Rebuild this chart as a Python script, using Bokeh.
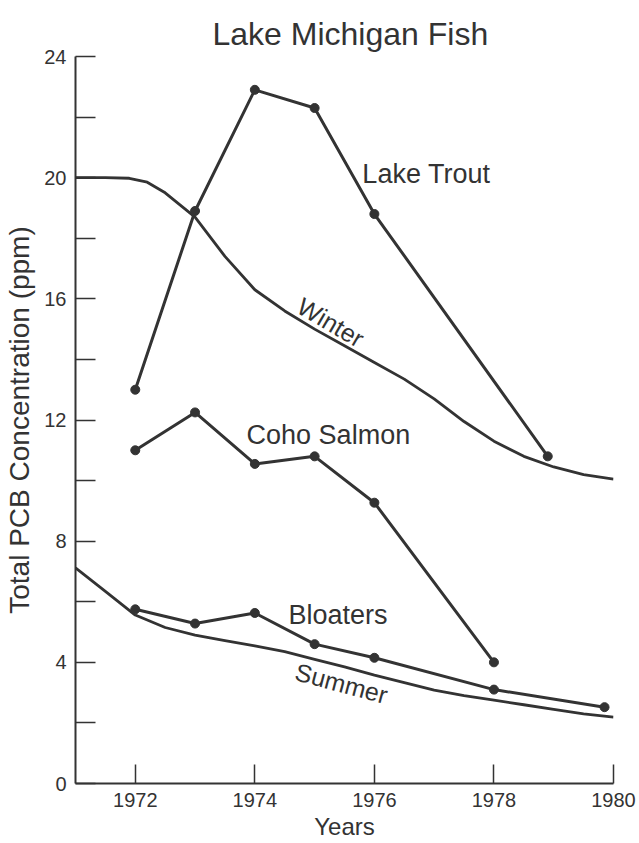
from bokeh.plotting import figure
from bokeh.models import FixedTicker, ColumnDataSource
from bokeh.core.properties import value
from bokeh.embed import file_html
from bokeh.resources import INLINE

# ---- data ----
trout_years = [1972, 1973, 1974, 1975, 1976, 1978.9]
trout_ppm = [13.0, 18.9, 22.9, 22.3, 18.8, 10.8]

coho_years = [1972, 1973, 1974, 1975, 1976, 1978]
coho_ppm = [11.0, 12.25, 10.55, 10.8, 9.27, 4.0]

bloater_years = [1972, 1973, 1974, 1975, 1976, 1978, 1979.85]
bloater_ppm = [5.75, 5.28, 5.63, 4.6, 4.15, 3.1, 2.52]

winter_years = [1971, 1971.5, 1971.9, 1972.2, 1972.5, 1973, 1973.5, 1974, 1974.5,
                1975, 1975.5, 1976, 1976.5, 1977, 1977.5, 1978, 1978.5, 1979, 1979.5, 1980]
winter_ppm = [20.0, 20.0, 19.98, 19.85, 19.5, 18.7, 17.4, 16.3, 15.6,
              15.0, 14.45, 13.9, 13.35, 12.7, 11.95, 11.3, 10.8, 10.45, 10.2, 10.05]

summer_years = [1971, 1971.5, 1972, 1972.5, 1973, 1973.5, 1974, 1974.5, 1975,
                1975.5, 1976, 1976.5, 1977, 1977.5, 1978, 1978.5, 1979, 1979.5, 1980]
summer_ppm = [7.12, 6.34, 5.56, 5.15, 4.9, 4.72, 4.54, 4.35, 4.1,
              3.85, 3.58, 3.33, 3.08, 2.9, 2.75, 2.6, 2.45, 2.3, 2.19]

x_ticks = [1972, 1974, 1976, 1978, 1980]
y_major = [0, 4, 8, 12, 16, 20, 24]
y_minor = [2, 6, 10, 14, 18, 22]

label_text = ["Lake Trout", "Coho Salmon", "Bloaters", "Winter", "Summer"]

# ---- styling / layout ----
INK = "#333333"
FONT = "Liberation Sans"

p = figure(width=639, height=843, x_range=(1971, 1980), y_range=(0, 24),
           output_backend="svg", toolbar_location=None,
           title="Lake Michigan Fish",
           min_border_left=75, min_border_right=26,
           min_border_top=56, min_border_bottom=60)

p.title.text_font = FONT
p.title.text_font_size = "32px"
p.title.text_font_style = "normal"
p.title.text_color = INK
p.title.align = "left"
p.title.offset = 137
p.title.text_line_height = 0.7
p.title.standoff = 9

p.outline_line_color = None
p.xgrid.visible = False
p.ygrid.visible = False
p.background_fill_color = "white"
p.border_fill_color = "white"

# axes
p.xaxis.ticker = FixedTicker(ticks=x_ticks, minor_ticks=[])
p.yaxis.ticker = FixedTicker(ticks=y_major, minor_ticks=y_minor)
for ax in (p.xaxis, p.yaxis):
    ax.axis_line_color = INK
    ax.axis_line_width = 2
    ax.major_tick_line_color = INK
    ax.major_tick_line_width = 1.5
    ax.minor_tick_line_color = INK
    ax.minor_tick_line_width = 1.5
    ax.major_tick_out = 0
    ax.minor_tick_out = 0
    ax.major_label_text_font = FONT
    ax.major_label_text_font_size = "20px"
    ax.major_label_text_color = INK
    ax.axis_label_text_font = FONT
    ax.axis_label_text_font_style = "normal"
    ax.axis_label_text_color = INK

p.xaxis.major_tick_in = 19
p.xaxis.major_label_standoff = 9
p.xaxis.axis_label = "Years"
p.xaxis.axis_label_text_font_size = "24px"
p.xaxis.axis_label_standoff = 3

p.yaxis.major_tick_in = 20
p.yaxis.minor_tick_in = 20
p.yaxis.major_label_standoff = 9
p.yaxis.axis_label = "Total PCB Concentration (ppm)"
p.yaxis.axis_label_text_font_size = "28px"
p.yaxis.axis_label_standoff = 6

# smooth seasonal curves
p.line(winter_years, winter_ppm, line_color=INK, line_width=2.8)
p.line(summer_years, summer_ppm, line_color=INK, line_width=2.8)

# fish series
for xs, ys in ((trout_years, trout_ppm), (coho_years, coho_ppm), (bloater_years, bloater_ppm)):
    p.line(xs, ys, line_color=INK, line_width=3)
    p.scatter(xs, ys, size=9, fill_color=INK, line_color=INK)

# series labels
lab = ColumnDataSource(dict(
    text=label_text,
    x=[1976.87, 1975.23, 1975.39, 1975.27, 1975.45],
    y=[20.13, 11.49, 5.56, 15.23, 3.31],
    angle=[0, 0, 0, -0.53, -0.26],
    size=["27px", "27px", "27px", "25px", "25px"],
))
p.text(x="x", y="y", text="text", angle="angle", source=lab,
       text_font=value(FONT), text_font_size="size", text_color=INK,
       text_align="center", text_baseline="middle")

open("out.html", "w").write(file_html(p, INLINE))
